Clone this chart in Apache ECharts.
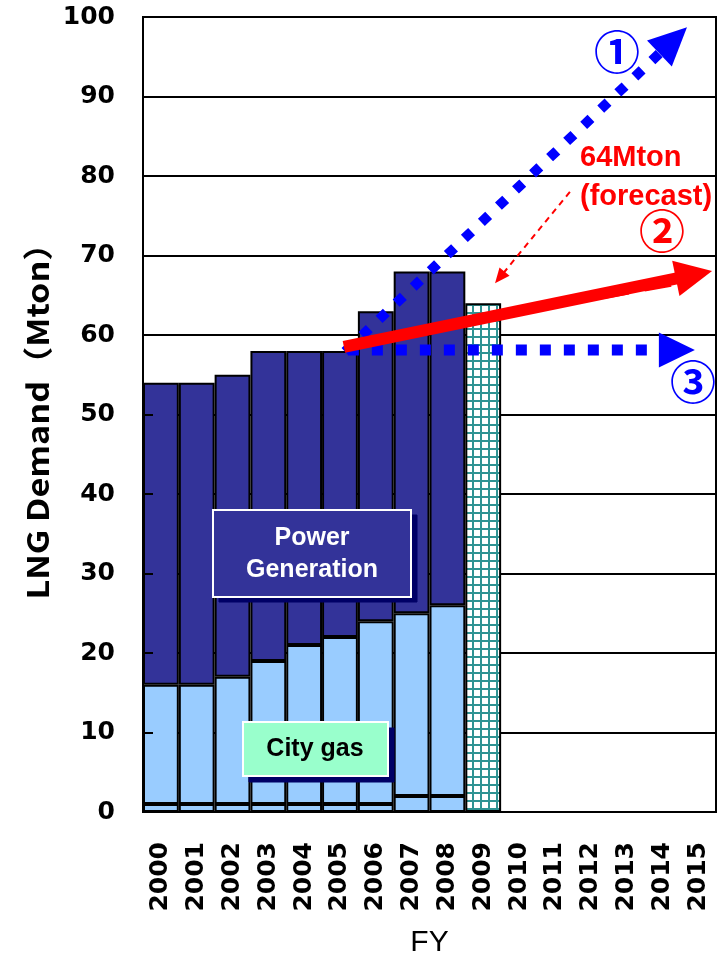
<!DOCTYPE html>
<html><head><meta charset="utf-8">
<script src="https://cdn.jsdelivr.net/npm/echarts@6/dist/echarts.min.js"></script>
<style>html,body{margin:0;padding:0;background:#fff}#c{width:721px;height:959px}</style>
</head><body><div id="c"></div>
<script>
// ---- data ----
const fiscalYears = ['2000','2001','2002','2003','2004','2005','2006','2007','2008','2009','2010','2011','2012','2013','2014','2015'];
const otherBase   = [1, 1, 1, 1, 1, 1, 1, 2, 2];          // thin bottom layer
const cityGas     = [15, 15, 16, 18, 20, 21, 23, 23, 24];  // segment above base
const powerGen    = [38, 38, 38, 39, 37, 36, 39, 43, 42];  // segment above city gas
const forecast2009 = 64;                                   // FY2009 forecast (Mton)
const yTicks = {min: 0, max: 100, step: 10};
// scenario arrows: [xStart, yStart, xEnd, yEnd] in (category index, Mton)
const scenarioHigh = [5.14, 57.9, 14.69, 98.7];
const scenarioMid  = [5.11, 58.5, 15.39, 68.05];
const scenarioFlat = [5.22, 58.1, 14.91, 58.1];
const forecastPointer = [11.42, 78.0, 9.33, 66.5];
const forecastDash = [11.14, 63.8, 14.36, 66.4];

// ---- build ----
const forecastData = fiscalYears.map((y, i) => i === 9 ? forecast2009 : '-');

const pat = document.createElement('canvas');
pat.width = 8; pat.height = 8;
const pc = pat.getContext('2d');
pc.fillStyle = '#ffffff'; pc.fillRect(0, 0, 8, 8);
pc.fillStyle = '#2f9393'; pc.fillRect(0, 0, 8, 2); pc.fillRect(0, 0, 2, 8);

function arrowRender(st) {
  return function (params, api) {
    const p0 = api.coord([api.value(0), api.value(1)]);
    const p1 = api.coord([api.value(2), api.value(3)]);
    const dx = p1[0] - p0[0], dy = p1[1] - p0[1];
    const L = Math.hypot(dx, dy), ux = dx / L, uy = dy / L;
    const hl = st.headLen, hw = st.headWidth;
    const bx = p1[0] - ux * hl, by = p1[1] - uy * hl;
    const children = [{
      type: 'line',
      shape: {x1: p0[0], y1: p0[1], x2: hl > 0 ? bx + ux * 1 : p1[0], y2: hl > 0 ? by + uy * 1 : p1[1]},
      style: {stroke: st.color, lineWidth: st.width, lineDash: st.dash || null, lineCap: 'butt', fill: null}
    }];
    if (hl > 0) {
      children.push({
        type: 'polygon',
        shape: {points: [[p1[0], p1[1]], [bx - uy * hw / 2, by + ux * hw / 2], [bx + uy * hw / 2, by - ux * hw / 2]]},
        style: {fill: st.color}
      });
    }
    return {type: 'group', children};
  };
}
function arrowSeries(name, d, st, z) {
  return {
    name, type: 'custom', xAxisIndex: 1, yAxisIndex: 0, z, silent: true, clip: false,
    encode: {x: [0, 2], y: [1, 3]},
    data: [d], renderItem: arrowRender(st)
  };
}

const chart = echarts.init(document.getElementById('c'), null, {renderer: 'canvas'});

const axisName = 'LNG Demand（Mton）';
const mc = document.createElement('canvas').getContext('2d');
mc.font = 'bold 30px "Noto Sans CJK JP"';
const nameW = mc.measureText(axisName).width || 300;
const nameScale = 373 / nameW;

const boxFont = '"Liberation Sans", Arial, sans-serif';
const circFont = '"Noto Sans CJK JP", sans-serif';

chart.setOption({
  animation: false,
  backgroundColor: '#fff',
  grid: {left: 143, right: 5, top: 17, bottom: 147, outerBoundsMode: 'none', containLabel: false,
    show: true, borderColor: '#000', borderWidth: 2, backgroundColor: 'transparent'},
  xAxis: [{
    type: 'category', data: fiscalYears, boundaryGap: true,
    axisLine: {lineStyle: {color: '#000', width: 2}},
    axisTick: {inside: true, length: 8, lineStyle: {color: '#000', width: 2}, interval: 0},
    axisLabel: {rotate: 90, interval: 0, margin: 30, color: '#000', fontFamily: '"DejaVu Sans", sans-serif', fontWeight: 'bold', fontSize: 25},
    name: 'FY', nameLocation: 'middle', nameGap: 116,
    nameTextStyle: {fontFamily: boxFont, fontSize: 30, color: '#000'}
  }, {
    type: 'value', min: -0.5, max: 15.5, show: false
  }],
  yAxis: [{
    type: 'value', min: yTicks.min, max: yTicks.max, interval: yTicks.step,
    axisLine: {show: false}, axisTick: {show: false},
    splitLine: {show: true, lineStyle: {color: '#000', width: 2}},
    axisLabel: {margin: 28, color: '#000', fontFamily: '"DejaVu Sans", sans-serif', fontWeight: 'bold', fontSize: 25}
  }, {
    type: 'value', min: yTicks.min, max: yTicks.max, interval: yTicks.step, position: 'left', z: 5,
    axisLine: {show: true, lineStyle: {color: '#000', width: 2}},
    axisTick: {show: true, inside: true, length: 10, lineStyle: {color: '#000', width: 2}},
    axisLabel: {show: false}, splitLine: {show: false}
  }],
  series: [
    {name: 'Other', type: 'bar', stack: 'd', barWidth: '100%', data: otherBase, z: 2,
      itemStyle: {color: '#99ccff', borderColor: '#000', borderWidth: 2}},
    {name: 'City gas', type: 'bar', stack: 'd', barWidth: '100%', data: cityGas, z: 2,
      itemStyle: {color: '#99ccff', borderColor: '#000', borderWidth: 2}},
    {name: 'Power Generation', type: 'bar', stack: 'd', barWidth: '100%', data: powerGen, z: 2,
      itemStyle: {color: '#333399', borderColor: '#000', borderWidth: 2}},
    {name: 'Forecast', type: 'bar', stack: 'd', barWidth: '100%', data: forecastData, z: 2,
      itemStyle: {color: {image: pat, repeat: 'repeat'}, borderColor: '#000', borderWidth: 2}},
    arrowSeries('Scenario 3', scenarioFlat, {color: '#0000ff', width: 11, dash: [11, 13], headLen: 36, headWidth: 35}, 10),
    arrowSeries('Scenario 1', scenarioHigh, {color: '#0000ff', width: 10, dash: [10, 13.5], headLen: 38, headWidth: 36}, 11),
    arrowSeries('Forecast dash', forecastDash, {color: '#ff0000', width: 4, dash: [27, 16], headLen: 0, headWidth: 0}, 12),
    arrowSeries('Scenario 2', scenarioMid, {color: '#ff0000', width: 12, headLen: 37, headWidth: 36}, 13),
    arrowSeries('Forecast pointer', forecastPointer, {color: '#ff0000', width: 2, dash: [6, 5], headLen: 15, headWidth: 13}, 13)
  ],
  graphic: {
    elements: [
      {type: 'text', id: 'yname', x: 38, y: 413, rotation: Math.PI / 2, scaleX: nameScale, z: 20,
        style: {text: axisName, fontFamily: circFont, fontWeight: 'bold', fontSize: 30, fill: '#000',
          align: 'center', verticalAlign: 'middle', textAlign: 'center', textVerticalAlign: 'middle'}},
      {type: 'group', id: 'pgBox', x: 213, y: 510, z: 20, children: [
        {type: 'rect', id: 'pgShadow', z: 20, shape: {x: 6, y: 5, width: 198, height: 87}, style: {fill: '#000066', stroke: '#000066', lineWidth: 1}},
        {type: 'rect', id: 'pgMain', z: 21, shape: {x: 0, y: 0, width: 198, height: 87}, style: {fill: '#333399', stroke: '#ffffff', lineWidth: 2}},
        {type: 'text', id: 'pgText', z: 22, x: 99, y: 44,
          style: {text: 'Power\nGeneration', fontFamily: boxFont, fontWeight: 'bold', fontSize: 25, lineHeight: 32, fill: '#ffffff',
            align: 'center', verticalAlign: 'middle', textAlign: 'center', textVerticalAlign: 'middle'}}
      ]},
      {type: 'group', id: 'cgBox', x: 243, y: 722, z: 20, children: [
        {type: 'rect', id: 'cgShadow', z: 20, shape: {x: 6, y: 6, width: 145, height: 54}, style: {fill: '#000066', stroke: '#000066', lineWidth: 1}},
        {type: 'rect', id: 'cgMain', z: 21, shape: {x: 0, y: 0, width: 145, height: 54}, style: {fill: '#99ffcc', stroke: '#ffffff', lineWidth: 2}},
        {type: 'text', id: 'cgText', z: 22, x: 72, y: 27,
          style: {text: 'City gas', fontFamily: boxFont, fontWeight: 'bold', fontSize: 25, fill: '#000',
            align: 'center', verticalAlign: 'middle', textAlign: 'center', textVerticalAlign: 'middle'}}
      ]},
      {type: 'text', z: 22, x: 580, y: 158,
        style: {text: '64Mton', fontFamily: boxFont, fontWeight: 'bold', fontSize: 29, fill: '#ff0000',
          align: 'left', verticalAlign: 'middle', textAlign: 'left', textVerticalAlign: 'middle'}},
      {type: 'text', z: 22, x: 580, y: 197,
        style: {text: '(forecast)', fontFamily: boxFont, fontWeight: 'bold', fontSize: 29, fill: '#ff0000',
          align: 'left', verticalAlign: 'middle', textAlign: 'left', textVerticalAlign: 'middle'}},
      {type: 'text', z: 22, x: 617, y: 52,
        style: {text: '①', fontFamily: circFont, fontWeight: 'bold', fontSize: 46, fill: '#0000ff',
          align: 'center', verticalAlign: 'middle', textAlign: 'center', textVerticalAlign: 'middle'}},
      {type: 'text', z: 22, x: 662, y: 231,
        style: {text: '②', fontFamily: circFont, fontWeight: 'bold', fontSize: 46, fill: '#ff0000',
          align: 'center', verticalAlign: 'middle', textAlign: 'center', textVerticalAlign: 'middle'}},
      {type: 'text', z: 22, x: 693, y: 382,
        style: {text: '③', fontFamily: circFont, fontWeight: 'bold', fontSize: 46, fill: '#0000ff',
          align: 'center', verticalAlign: 'middle', textAlign: 'center', textVerticalAlign: 'middle'}}
    ]
  }
});
</script></body></html>
